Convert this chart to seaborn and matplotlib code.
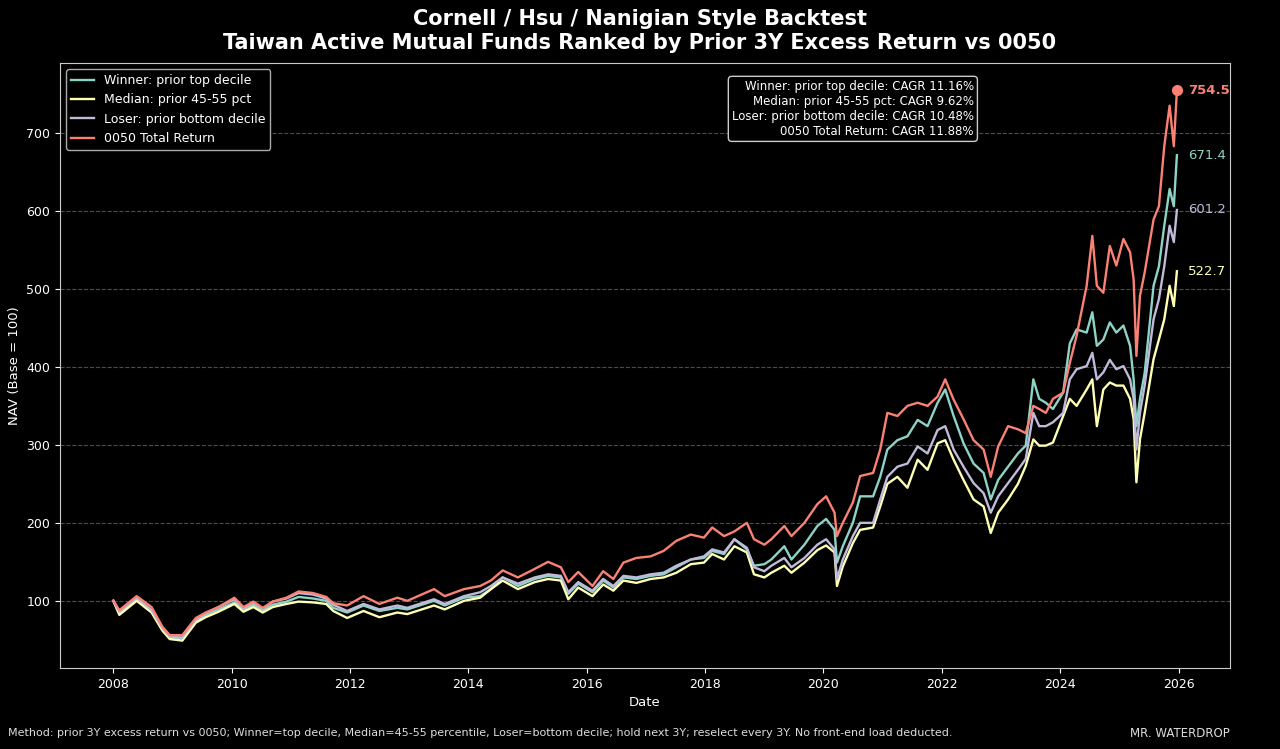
import pandas as pd
import matplotlib
matplotlib.use('Agg')
import matplotlib.pyplot as plt
import matplotlib.dates as mdates
import seaborn as sns

# NAV values (base = 100)
dates = [
    "2008-01-02", "2008-02-08", "2008-05-25", "2008-08-25", "2008-10-30", "2008-12-15",
    "2009-03-03", "2009-05-25", "2009-07-25", "2009-10-12",
    "2010-01-18", "2010-03-15", "2010-05-15", "2010-07-12", "2010-09-12", "2010-12-05",
    "2011-02-18", "2011-05-18", "2011-08-08", "2011-09-20", "2011-12-15",
    "2012-03-25", "2012-07-01", "2012-10-20", "2012-12-20",
    "2013-06-03", "2013-08-08", "2013-12-05",
    "2014-03-15", "2014-05-20", "2014-08-01", "2014-11-03",
    "2015-02-15", "2015-05-08", "2015-07-26", "2015-09-10", "2015-11-10",
    "2016-02-06", "2016-04-12", "2016-06-14", "2016-08-15", "2016-11-03",
    "2017-01-30", "2017-04-20", "2017-07-08", "2017-10-05", "2017-12-25",
    "2018-02-14", "2018-04-28", "2018-07-01", "2018-09-16", "2018-10-30",
    "2019-01-02", "2019-02-14", "2019-05-05", "2019-06-18", "2019-09-06", "2019-11-25",
    "2020-01-18", "2020-03-10", "2020-03-25", "2020-04-30", "2020-07-01", "2020-08-15", "2020-11-03", "2020-12-17",
    "2021-01-30", "2021-04-02", "2021-06-03", "2021-08-05", "2021-10-05", "2021-12-06",
    "2022-01-22", "2022-03-15", "2022-05-15", "2022-07-16", "2022-09-16", "2022-10-30", "2022-12-15",
    "2023-02-14", "2023-04-16", "2023-06-03", "2023-07-20", "2023-08-25", "2023-10-05", "2023-11-18",
    "2024-01-20", "2024-03-01", "2024-04-12", "2024-06-13", "2024-07-18", "2024-08-15", "2024-09-24", "2024-11-03", "2024-12-13",
    "2025-01-26", "2025-03-08", "2025-03-30", "2025-04-16", "2025-05-08", "2025-06-06", "2025-07-31", "2025-09-02", "2025-10-05", "2025-11-07", "2025-12-03", "2025-12-22",
]

winner = [
    100, 84, 102, 87, 64, 53,
    52, 74, 82, 89,
    98, 88, 95, 88, 95, 99,
    105, 103, 100, 91, 85,
    94, 87, 91, 89,
    100, 94, 104,
    106, 115, 130, 119,
    128, 132, 130, 109, 122,
    111, 126, 117, 130, 128,
    132, 134, 143, 153, 155,
    164, 160, 179, 166, 145,
    147, 153, 170, 153, 172, 196,
    205, 191, 149, 170, 200, 234, 234, 259,
    294, 306, 311, 332, 324, 354,
    371, 337, 302, 276, 264, 230, 255,
    272, 289, 299, 384, 359, 354, 346,
    367, 430, 448, 444, 470, 427, 435, 457, 444,
    453, 427, 384, 324, 359, 392, 504, 529, 581, 628, 606, 671.4,
]

median = [
    100, 82, 100, 85, 62, 51,
    49, 72, 79, 86,
    96, 86, 92, 85, 92, 96,
    99, 98, 96, 87, 78,
    87, 79, 85, 83,
    94, 89, 100,
    104, 115, 126, 115,
    124, 128, 126, 102, 117,
    106, 121, 113, 126, 123,
    128, 130, 136, 147, 149,
    160, 153, 170, 162, 134,
    130, 136, 145, 136, 149, 165,
    171, 162, 119, 144, 174, 191, 194, 221,
    250, 259, 245, 281, 268, 302,
    306, 281, 255, 230, 221, 187, 213,
    230, 250, 273, 307, 299, 299, 303,
    337, 359, 350, 371, 384, 324, 371, 380, 376,
    376, 359, 333, 252, 307, 341, 410, 435, 461, 504, 478, 522.7,
]

loser = [
    100, 86, 104, 88, 65, 54,
    53, 76, 84, 92,
    102, 90, 98, 90, 99, 103,
    110, 108, 103, 95, 87,
    96, 89, 94, 91,
    102, 96, 106,
    111, 119, 130, 122,
    130, 134, 132, 111, 124,
    113, 128, 119, 132, 130,
    134, 136, 145, 153, 157,
    166, 162, 179, 168, 143,
    138, 145, 155, 143, 155, 172,
    179, 166, 128, 153, 183, 200, 200, 230,
    259, 272, 276, 298, 289, 319,
    324, 294, 272, 251, 238, 213, 234,
    251, 268, 282, 341, 324, 324, 329,
    341, 384, 397, 401, 418, 384, 393, 409, 397,
    401, 384, 359, 294, 341, 376, 461, 487, 529, 581, 560, 601.2,
]

etf_0050 = [
    100, 88, 106, 92, 67, 56,
    56, 78, 85, 92,
    104, 92, 99, 91, 99, 104,
    112, 110, 105, 97, 94,
    106, 96, 104, 100,
    115, 106, 115,
    119, 126, 139, 130,
    141, 150, 143, 124, 137,
    119, 138, 128, 149, 155,
    157, 164, 177, 185, 181,
    194, 183, 189, 200, 179,
    172, 179, 196, 183, 200, 224,
    234, 213, 183, 200, 226, 260, 264, 294,
    341, 337, 350, 354, 350, 362,
    384, 358, 333, 306, 294, 259, 298,
    324, 320, 315, 350, 346, 341, 359,
    367, 405, 440, 504, 568, 504, 495, 555, 530,
    564, 547, 512, 414, 491, 521, 589, 606, 683, 735, 683, 754.5,
]

series_names = ["Winner: prior top decile", "Median: prior 45-55 pct",
                "Loser: prior bottom decile", "0050 Total Return"]
cagr = ["11.16%", "9.62%", "10.48%", "11.88%"]
colors = ["#8dd3c7", "#feffb3", "#bfbbd9", "#fa8174"]


def build_df():
    frames = []
    for name, vals in zip(series_names, [winner, median, loser, etf_0050]):
        frames.append(pd.DataFrame({'date': pd.to_datetime(dates), 'nav': vals, 'series': name}))
    return pd.concat(frames, ignore_index=True)


def main():
    plt.style.use('dark_background')
    df = build_df()

    fig = plt.figure(figsize=(12.8, 7.49), dpi=100)
    ax = fig.add_axes([0.047, 0.108, 0.914, 0.808])

    sns.lineplot(data=df, x='date', y='nav', hue='series', hue_order=series_names,
                 palette=colors, estimator=None, linewidth=1.7, ax=ax)

    # end point labels
    for name, c in zip(series_names, colors):
        sub = df[df['series'] == name]
        last_x = sub['date'].iloc[-1]
        last_y = sub['nav'].iloc[-1]
        if name.startswith('0050'):
            ax.plot(last_x, last_y, 'o', color=c, markersize=7)
            ax.annotate(f"{last_y:.1f}", (last_x, last_y), xytext=(8, 0), textcoords='offset points',
                        color=c, fontsize=9.5, fontweight='bold', va='center')
        else:
            ax.annotate(f"{last_y:.1f}", (last_x, last_y), xytext=(8, 0), textcoords='offset points',
                        color=c, fontsize=9.5, va='center')

    ax.xaxis.set_major_locator(mdates.YearLocator(2))
    ax.xaxis.set_major_formatter(mdates.DateFormatter('%Y'))
    ax.yaxis.grid(True, linestyle='--', color='gray', alpha=0.6, linewidth=0.8)
    ax.xaxis.grid(False)
    ax.set_xlabel('Date', fontsize=9.5)
    ax.set_ylabel('NAV (Base = 100)', fontsize=9.5)
    ax.tick_params(labelsize=9)
    for sp in ax.spines.values():
        sp.set_color('#cccccc')

    handles, labels = ax.get_legend_handles_labels()
    ax.legend(handles, labels, loc='upper left', fontsize=9, framealpha=1,
              facecolor='black', edgecolor='#aaaaaa', handlelength=1.8)

    box_text = "\n".join(f"{n}: CAGR {c}" for n, c in zip(series_names, cagr))
    ax.text(0.781, 0.972, box_text, transform=ax.transAxes, ha='right', va='top',
            fontsize=8.5, multialignment='right',
            bbox=dict(boxstyle='round,pad=0.3', facecolor='black', edgecolor='#cccccc'))

    fig.suptitle('Cornell / Hsu / Nanigian Style Backtest\n'
                 'Taiwan Active Mutual Funds Ranked by Prior 3Y Excess Return vs 0050',
                 fontsize=15, fontweight='bold', y=0.988, linespacing=1.25)

    fig.text(0.006, 0.021, 'Method: prior 3Y excess return vs 0050; Winner=top decile, Median=45-55 percentile, '
             'Loser=bottom decile; hold next 3Y; reselect every 3Y. No front-end load deducted.',
             fontsize=8, color='#dddddd', va='center')
    fig.text(0.961, 0.021, 'MR. WATERDROP', fontsize=8.5, color='#dddddd', ha='right', va='center')

    fig.savefig('out.png', dpi=100, facecolor='black')


if __name__ == '__main__':
    main()
